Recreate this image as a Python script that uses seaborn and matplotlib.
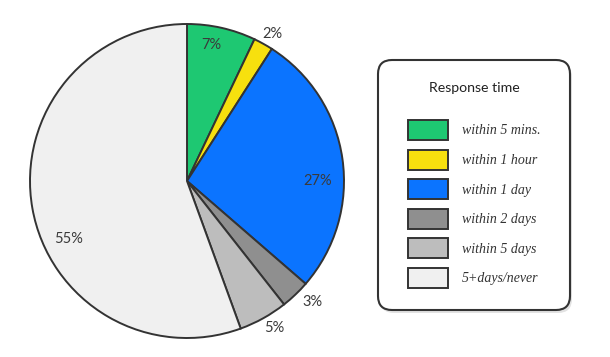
import matplotlib.pyplot as plt
import numpy as np
import seaborn as sns
from matplotlib.patches import FancyBboxPatch

# data
categories = ['within 5 mins.', 'within 1 hour', 'within 1 day',
              'within 2 days', 'within 5 days', '5+days/never']
shares = [7, 2, 27, 3, 5, 55]
pct_labels = ['7%', '2%', '27%', '3%', '5%', '55%']
colors = ['#1ec872', '#f7e00e', '#0b74ff', '#8f8f8f', '#bdbdbd', '#f0f0f0']

sns.set_theme(style='white')
plt.rcParams['font.family'] = ['Lato', 'DejaVu Sans']

W, H = 610, 357
fig = plt.figure(figsize=(W / 100, H / 100), dpi=100)

# pie: centre (187,181) px, radius 157 px
R = 157
half = R * 1.05
ax = fig.add_axes([(187 - half) / W, (H - 181 - half) / H, 2 * half / W, 2 * half / H])
wedges, _ = ax.pie(shares, colors=colors, startangle=90, counterclock=False,
                   wedgeprops=dict(edgecolor='#333333', linewidth=1.4))
ax.set_xlim(-1.05, 1.05)
ax.set_ylim(-1.05, 1.05)
ax.set_aspect('equal')

# label placement: radial factor and angle nudge per slice
label_r = [0.88, 1.08, 0.835, 1.11, 1.09, 0.84]
label_da = [2.7, -1, -8, 2.3, 1.5, 16]
for w, txt, r, da in zip(wedges, pct_labels, label_r, label_da):
    th = np.deg2rad((w.theta1 + w.theta2) / 2 + da)
    ax.text(r * np.cos(th), r * np.sin(th), txt, ha='center', va='center',
            fontsize=10.5, color='#3a3a3a')

# overlay axes in pixel units for the legend card
ax2 = fig.add_axes([0, 0, 1, 1])
ax2.set_xlim(0, W)
ax2.set_ylim(H, 0)
ax2.axis('off')

shadow = FancyBboxPatch((380, 63), 192, 250, boxstyle='round,pad=0,rounding_size=14',
                        facecolor='#e2e2e2', edgecolor='none')
ax2.add_patch(shadow)
card = FancyBboxPatch((378, 60), 192, 250, boxstyle='round,pad=0,rounding_size=14',
                      facecolor='white', edgecolor='#333333', linewidth=1.5)
ax2.add_patch(card)
ax2.text(474, 88, 'Response time', ha='center', va='center', fontsize=10.2,
         color='#222222')

# legend geometry: swatch 40x20 px, row pitch 29.6 px
fs = 10
pt = 0.72  # points per pixel at 100 dpi
swatch_h = 20 * pt
hh = (swatch_h / fs - 0.245) / 0.65
ax2.legend(wedges, categories, loc='upper left', bbox_to_anchor=(408, 120),
           bbox_transform=ax2.transData, frameon=False, borderpad=0,
           borderaxespad=0, handlelength=40 * pt / fs, handleheight=hh,
           labelspacing=9.6 * pt / fs, handletextpad=14 * pt / fs,
           prop=dict(family='Liberation Serif', style='italic', size=fs),
           labelcolor='#333333')

fig.savefig('out.png', dpi=100)
